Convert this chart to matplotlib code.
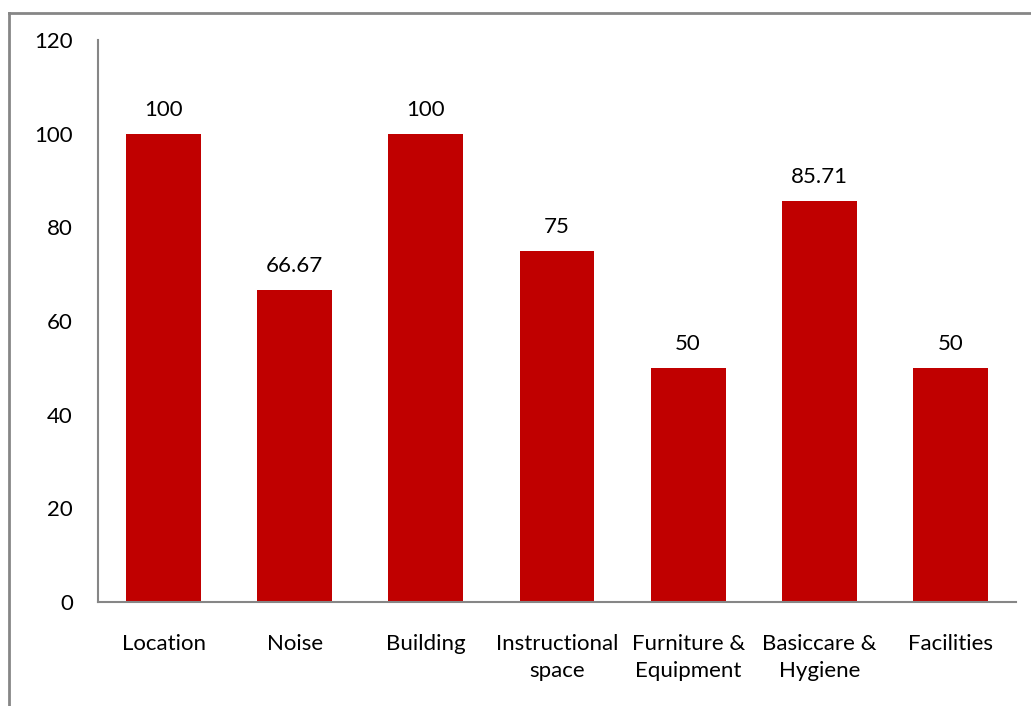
import matplotlib.pyplot as plt
from matplotlib.lines import Line2D

categories = ['Location', 'Noise', 'Building', 'Instructional\nspace',
              'Furniture &\nEquipment', 'Basiccare &\nHygiene', 'Facilities']
values = [100, 66.67, 100, 75, 50, 85.71, 50]
labels = ['100', '66.67', '100', '75', '50', '85.71', '50']

plt.rcParams['font.family'] = ['Lato', 'DejaVu Sans']

fig = plt.figure(figsize=(10.31, 7.06), dpi=100)
ax = fig.add_axes([98 / 1031, 1 - 602 / 706, 918 / 1031, 562 / 706])

x = range(len(categories))
bars = ax.bar(x, values, width=0.57, color='#c00000')
for b, lab in zip(bars, labels):
    ax.text(b.get_x() + b.get_width() / 2, b.get_height() + 3, lab,
            ha='center', va='bottom', fontsize=16)

ax.set_xlim(-0.5, len(categories) - 0.5)
ax.set_ylim(0, 120)
ax.set_yticks(range(0, 121, 20))
ax.set_xticks(list(x))
ax.set_xticklabels(categories, fontsize=16, linespacing=1.45)
ax.tick_params(axis='y', labelsize=16, length=0, pad=18)
ax.tick_params(axis='x', length=0, pad=23)
for s in ['top', 'right']:
    ax.spines[s].set_visible(False)
for s in ['left', 'bottom']:
    ax.spines[s].set_color('#868686')
    ax.spines[s].set_linewidth(1.5)

# outer chart frame
fig.add_artist(Line2D([9 / 1031, 1030 / 1031], [1 - 13 / 706, 1 - 13 / 706],
                      color='#868686', lw=2))
fig.add_artist(Line2D([9 / 1031, 9 / 1031], [1 - 13 / 706, 0],
                      color='#868686', lw=2))

fig.savefig('out.png', dpi=100)
